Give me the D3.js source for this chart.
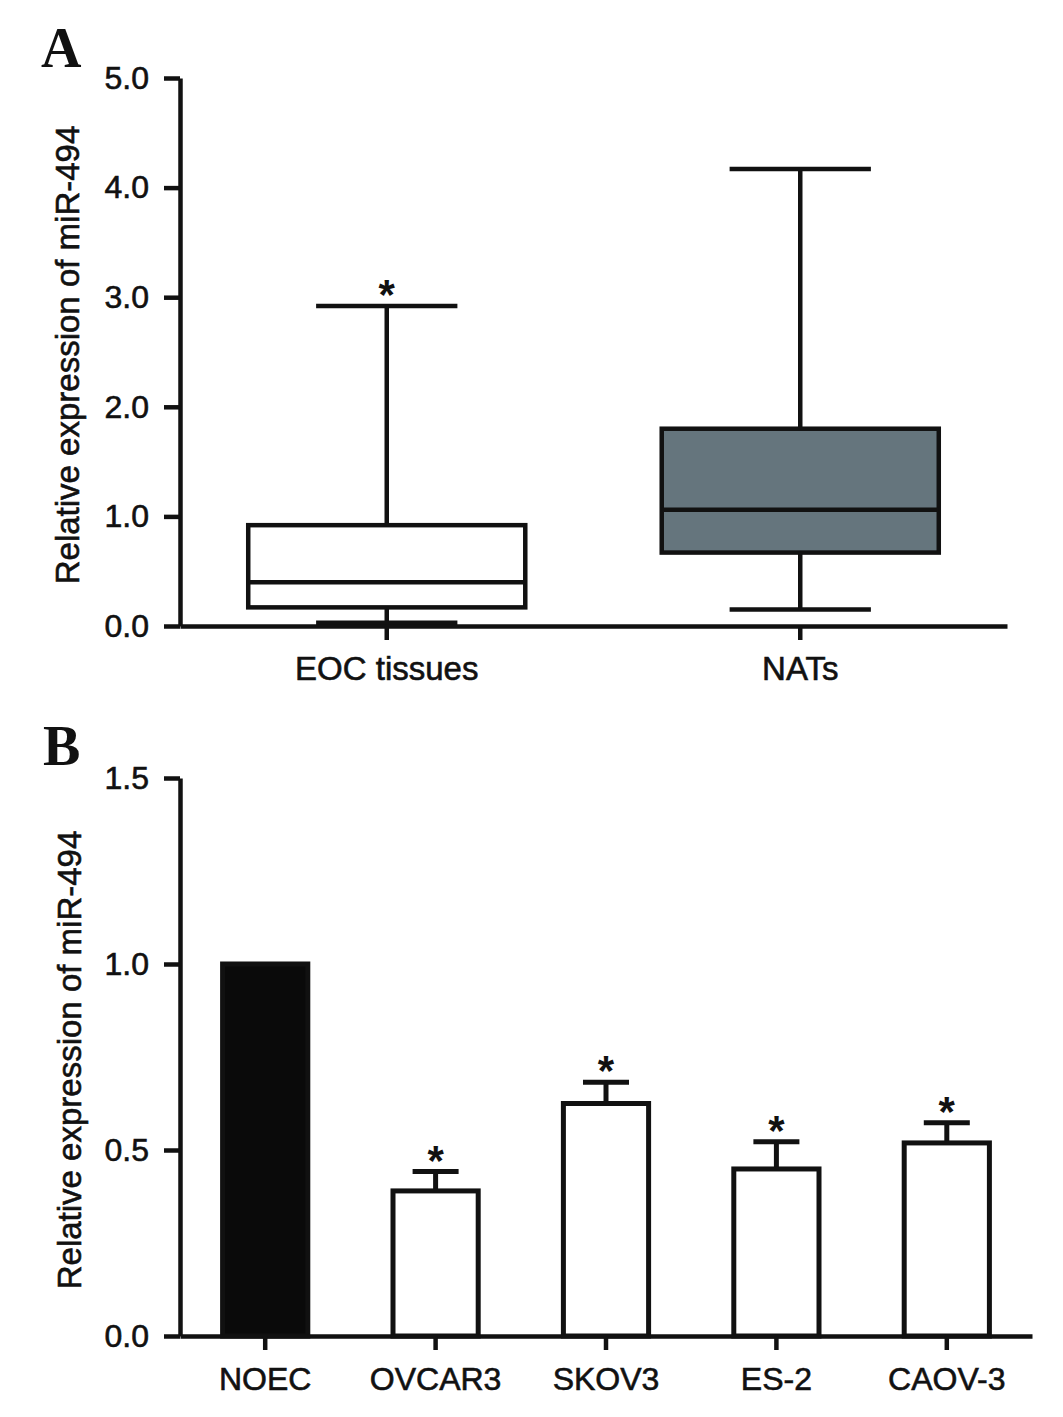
<!DOCTYPE html>
<html>
<head>
<meta charset="utf-8">
<script src="https://cdn.jsdelivr.net/npm/d3@7"></script>
<style>
  body { margin: 0; background: #fff; }
  text { font-family: "Liberation Sans", Arial, sans-serif; fill: #111; }
</style>
</head>
<body>
<div id="chart"></div>
<script>
// panel A: box plot
var boxGroups = ["EOC tissues", "NATs"];
var boxLow    = [0.03, 0.15];
var boxQ1     = [0.17, 0.67];
var boxMedian = [0.40, 1.06];
var boxQ3     = [0.92, 1.80];
var boxHigh   = [2.92, 4.17];
var boxFill   = ["#ffffff", "#65757d"];
var boxStar   = [true, false];
var yTicksA   = [0, 1, 2, 3, 4, 5];

// panel B: bar chart with SEM
var cellLines = ["NOEC", "OVCAR3", "SKOV3", "ES-2", "CAOV-3"];
var cellMean  = [1.0, 0.39, 0.625, 0.449, 0.519];
var cellSem   = [0, 0.052, 0.057, 0.073, 0.054];
var cellFill  = ["#0a0a0a", "#ffffff", "#ffffff", "#ffffff", "#ffffff"];
var cellStar  = [false, true, true, true, true];
var yTicksB   = [0, 0.5, 1.0, 1.5];

var yTitle = "Relative expression of miR-494";

var svg = d3.select("#chart").append("svg")
  .attr("width", 1063)
  .attr("height", 1417);

// text a bit heavier, like the scanned figure
function heavy(sel) {
  sel.attr("fill", "#111").attr("stroke", "#111").attr("stroke-width", 0.6);
}

function styleAxis(g) {
  g.selectAll("path, line").attr("stroke", "#111").attr("stroke-width", 4.5);
  g.selectAll("text").style("font-family", "Liberation Sans, Arial, sans-serif").call(heavy);
}

// ---------- panel A ----------
var xA = d3.scaleBand().domain(boxGroups).range([180, 1007]);
var yA = d3.scaleLinear().domain([0, 5]).range([626, 78]);

svg.append("g")
  .attr("transform", "translate(180,0)")
  .call(d3.axisLeft(yA).tickValues(yTicksA).tickFormat(d3.format(".1f")).tickSize(16).tickSizeOuter(0).tickPadding(15))
  .call(styleAxis)
  .selectAll("text").attr("font-size", 32);

var boxes = svg.append("g").selectAll("g")
  .data(boxGroups)
  .enter().append("g");

var boxW = xA.bandwidth() * 0.67;
boxes.each(function(d, i) {
  var g = d3.select(this);
  var cx = xA(d) + xA.bandwidth() / 2;
  var capW = boxW * 0.51;
  // whiskers
  g.append("line").attr("x1", cx).attr("x2", cx)
    .attr("y1", yA(boxHigh[i])).attr("y2", yA(boxQ3[i]));
  g.append("line").attr("x1", cx).attr("x2", cx)
    .attr("y1", yA(boxQ1[i])).attr("y2", yA(boxLow[i]));
  g.append("line").attr("x1", cx - capW / 2).attr("x2", cx + capW / 2)
    .attr("y1", yA(boxHigh[i])).attr("y2", yA(boxHigh[i]));
  g.append("line").attr("x1", cx - capW / 2).attr("x2", cx + capW / 2)
    .attr("y1", yA(boxLow[i])).attr("y2", yA(boxLow[i]));
  // box
  g.append("rect")
    .attr("x", cx - boxW / 2)
    .attr("y", yA(boxQ3[i]))
    .attr("width", boxW)
    .attr("height", yA(boxQ1[i]) - yA(boxQ3[i]))
    .attr("fill", boxFill[i]);
  g.append("line").attr("x1", cx - boxW / 2).attr("x2", cx + boxW / 2)
    .attr("y1", yA(boxMedian[i])).attr("y2", yA(boxMedian[i]));
  g.selectAll("line, rect").attr("stroke", "#111").attr("stroke-width", 4.5);
  if (boxStar[i]) {
    g.append("text")
      .attr("x", cx).attr("y", yA(boxHigh[i]) + 3)
      .attr("text-anchor", "middle")
      .attr("font-size", 42).attr("font-weight", "bold")
      .attr("fill", "#333")
      .text("*");
  }
});

svg.append("g")
  .attr("transform", "translate(0,626)")
  .call(d3.axisBottom(xA).tickSize(14).tickSizeOuter(0).tickPadding(17))
  .call(styleAxis)
  .selectAll("text").attr("font-size", 33);

svg.append("text")
  .attr("transform", "translate(79,355) rotate(-90)")
  .attr("text-anchor", "middle")
  .attr("font-size", 33)
  .call(heavy)
  .text(yTitle);

svg.append("text")
  .attr("x", 41).attr("y", 67)
  .attr("font-size", 56).attr("font-weight", "bold")
  .style("font-family", "Liberation Serif, Times New Roman, serif")
  .text("A");

// ---------- panel B ----------
var xB = d3.scaleBand().domain(cellLines).range([180, 1032]).paddingInner(0.5).paddingOuter(0.25);
var yB = d3.scaleLinear().domain([0, 1.5]).range([1336, 778]);

svg.append("g")
  .attr("transform", "translate(180,0)")
  .call(d3.axisLeft(yB).tickValues(yTicksB).tickFormat(d3.format(".1f")).tickSize(16).tickSizeOuter(0).tickPadding(15))
  .call(styleAxis)
  .selectAll("text").attr("font-size", 32);

var bars = svg.append("g").selectAll("g")
  .data(cellLines)
  .enter().append("g");

bars.each(function(d, i) {
  var g = d3.select(this);
  var x0 = xB(d), bw = xB.bandwidth(), cx = x0 + bw / 2;
  var capW = bw * 0.54;
  if (cellSem[i] > 0) {
    var top = yB(cellMean[i] + cellSem[i]);
    g.append("line").attr("x1", cx).attr("x2", cx)
      .attr("y1", yB(cellMean[i])).attr("y2", top);
    g.append("line").attr("x1", cx - capW / 2).attr("x2", cx + capW / 2)
      .attr("y1", top).attr("y2", top);
  }
  g.append("rect")
    .attr("x", x0)
    .attr("y", yB(cellMean[i]))
    .attr("width", bw)
    .attr("height", yB(0) - yB(cellMean[i]))
    .attr("fill", cellFill[i]);
  g.selectAll("line, rect").attr("stroke", "#111").attr("stroke-width", 5);
  if (cellStar[i]) {
    g.append("text")
      .attr("x", cx).attr("y", yB(cellMean[i] + cellSem[i]) + 3)
      .attr("text-anchor", "middle")
      .attr("font-size", 42).attr("font-weight", "bold")
      .attr("fill", "#333")
      .text("*");
  }
});

svg.append("g")
  .attr("transform", "translate(0,1336)")
  .call(d3.axisBottom(xB).tickSize(14).tickSizeOuter(0).tickPadding(17))
  .call(styleAxis)
  .selectAll("text").attr("font-size", 32);

svg.append("text")
  .attr("transform", "translate(81,1060) rotate(-90)")
  .attr("text-anchor", "middle")
  .attr("font-size", 33)
  .call(heavy)
  .text(yTitle);

svg.append("text")
  .attr("x", 43).attr("y", 765)
  .attr("font-size", 56).attr("font-weight", "bold")
  .style("font-family", "Liberation Serif, Times New Roman, serif")
  .text("B");
</script>
</body>
</html>
